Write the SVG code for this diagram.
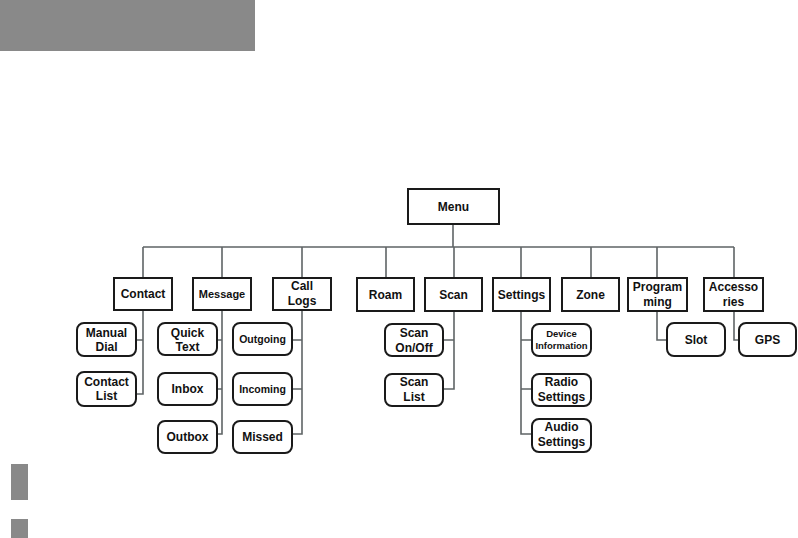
<svg xmlns="http://www.w3.org/2000/svg" width="798" height="538" viewBox="0 0 798 538">
<style>
.bg{fill:#ffffff}
.grey{fill:#898989}
.box{fill:#ffffff;stroke:#1a1a1a;stroke-width:2}
.rbox{fill:#ffffff;stroke:#1a1a1a;stroke-width:2}
.ln{fill:none;stroke:#5f6466;stroke-width:1.6}
text{font-family:"Liberation Sans",Arial,sans-serif;font-weight:bold;font-size:12px;fill:#111;text-anchor:middle}
.s11{font-size:11px}
.s10{font-size:10.5px}
.s9{font-size:9.5px}
</style>
<rect class="bg" x="0" y="0" width="798" height="538"/>
<rect class="grey" x="0" y="0" width="255" height="51"/>
<rect class="grey" x="11" y="464" width="17" height="36"/>
<rect class="grey" x="11" y="519" width="17" height="19"/>

<g id="connectors">
<path class="ln" d="M453 224V247M143 247H734"/>
<path class="ln" d="M143 247V278M222 247V278M302 247V278M386 247V278M454 247V278M521 247V278M591 247V278M657 247V278M734 247V278"/>
<path class="ln" d="M143 311V394H136M143 340H136"/>
<path class="ln" d="M222 311V434H216M222 340H217M222 389H217"/>
<path class="ln" d="M302 311V434H292M302 340H292M302 389H292"/>
<path class="ln" d="M454 311V389H443M454 340H443"/>
<path class="ln" d="M521 311V434H532M521 340H532M521 389H532"/>
<path class="ln" d="M657 311V340H667"/>
<path class="ln" d="M734 311V340H739"/>
</g>

<g id="menu"><rect class="box" x="408" y="189" width="91" height="35"/><text x="453.5" y="211">Menu</text></g>

<g id="contact"><rect class="box" x="114" y="278" width="58" height="32"/><text x="143" y="298">Contact</text></g>
<g id="message"><rect class="box" x="193" y="278" width="58" height="32"/><text class="s11" x="222" y="298">Message</text></g>
<g id="calllogs"><rect class="box" x="273" y="278" width="58" height="32"/><text x="302" y="290">Call</text><text x="302" y="305">Logs</text></g>
<g id="roam"><rect class="box" x="357" y="278" width="57" height="33"/><text x="385.5" y="299">Roam</text></g>
<g id="scan"><rect class="box" x="425" y="278" width="57" height="33"/><text x="453.5" y="299">Scan</text></g>
<g id="settings"><rect class="box" x="493" y="278" width="57" height="33"/><text x="521.5" y="299">Settings</text></g>
<g id="zone"><rect class="box" x="562" y="278" width="57" height="33"/><text x="590.5" y="299">Zone</text></g>
<g id="programming"><rect class="box" x="628" y="278" width="59" height="33"/><text x="657.5" y="291">Program</text><text x="657.5" y="306">ming</text></g>
<g id="accessories"><rect class="box" x="704" y="278" width="59" height="33"/><text x="733.5" y="291">Accesso</text><text x="733.5" y="306">ries</text></g>

<g id="manualdial"><rect class="rbox" x="77" y="323" width="59" height="33" rx="7"/><text x="106.5" y="337">Manual</text><text x="106.5" y="351">Dial</text></g>
<g id="contactlist"><rect class="rbox" x="77" y="372" width="59" height="34" rx="7"/><text x="106.5" y="386">Contact</text><text x="106.5" y="400">List</text></g>

<g id="quicktext"><rect class="rbox" x="158" y="323" width="59" height="32" rx="7"/><text x="187.5" y="337">Quick</text><text x="187.5" y="351">Text</text></g>
<g id="inbox"><rect class="rbox" x="158" y="373" width="59" height="32" rx="7"/><text x="187.5" y="393">Inbox</text></g>
<g id="outbox"><rect class="rbox" x="158" y="421" width="59" height="32" rx="7"/><text x="187.5" y="441">Outbox</text></g>

<g id="outgoing"><rect class="rbox" x="233" y="323" width="59" height="32" rx="7"/><text class="s10" x="262.5" y="343">Outgoing</text></g>
<g id="incoming"><rect class="rbox" x="233" y="373" width="59" height="32" rx="7"/><text class="s10" x="262.5" y="393">Incoming</text></g>
<g id="missed"><rect class="rbox" x="233" y="421" width="59" height="32" rx="7"/><text x="262.5" y="441">Missed</text></g>

<g id="scanonoff"><rect class="rbox" x="385" y="324" width="58" height="32" rx="7"/><text x="414" y="337">Scan</text><text x="414" y="352">On/Off</text></g>
<g id="scanlist"><rect class="rbox" x="385" y="374" width="58" height="32" rx="7"/><text x="414" y="386">Scan</text><text x="414" y="401">List</text></g>

<g id="deviceinfo"><rect class="rbox" x="532" y="324" width="59" height="32" rx="7"/><text class="s9" x="561.5" y="337">Device</text><text class="s9" x="561.5" y="349">Information</text></g>
<g id="radiosettings"><rect class="rbox" x="532" y="374" width="59" height="32" rx="7"/><text x="561.5" y="386">Radio</text><text x="561.5" y="401">Settings</text></g>
<g id="audiosettings"><rect class="rbox" x="532" y="419" width="59" height="33" rx="7"/><text x="561.5" y="431">Audio</text><text x="561.5" y="446">Settings</text></g>

<g id="slot"><rect class="rbox" x="667" y="323" width="58" height="33" rx="7"/><text x="696" y="344">Slot</text></g>
<g id="gps"><rect class="rbox" x="739" y="323" width="57" height="33" rx="7"/><text x="767.5" y="344">GPS</text></g>
</svg>
